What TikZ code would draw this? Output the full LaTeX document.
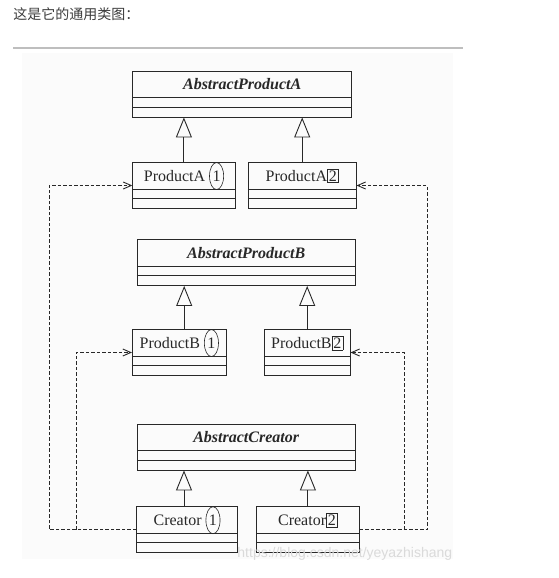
\documentclass[tikz,border=0pt]{standalone}
\usepackage{fontspec}
\setmainfont{Liberation Serif}
\newfontfamily\cjkfont{Noto Sans CJK SC}
\newfontfamily\wmfont{Liberation Sans}
\usetikzlibrary{arrows.meta,shapes.geometric}
\definecolor{ink}{RGB}{40,40,40}
\definecolor{rulegray}{RGB}{190,190,190}
\definecolor{panel}{RGB}{251,251,251}
\definecolor{wmgray}{RGB}{218,218,218}
\definecolor{headgray}{RGB}{60,60,60}
\newcommand{\circnum}[1]{\tikz[baseline=(cn.base)]\node[draw,ellipse,inner xsep=1pt,inner ysep=0pt,line width=0.6pt] (cn) {#1};}
\newcommand{\boxnum}[1]{{\setlength{\fboxsep}{1.2pt}\setlength{\fboxrule}{0.6pt}\fbox{#1}}}

\begin{document}
\begin{tikzpicture}[x=1pt,y=-1pt,line width=0.9pt,draw=ink,text=ink,
  cls/.style={draw,minimum height=46pt,inner sep=0pt},
  ttl/.style={anchor=north,minimum height=27pt,inner sep=0pt,font=\fontsize{16}{19}\selectfont},
  inh/.style={-{Triangle[open,width=16pt,length=20pt]}},
  dep/.style={dash pattern=on 3.5pt off 2pt,-{Straight Barb[length=8pt,width=7pt]}}]
  \useasboundingbox (0,0) rectangle (559,578);
  \fill[panel] (22,53) rectangle (453,559);
  \fill[rulegray] (13,47) rectangle (463,49.3);
  \node[anchor=west,inner sep=0pt,text=headgray,font=\cjkfont\fontsize{14}{16}\selectfont] (hd) at (13,14.5) {这是它的通用类图：};

  % classes
  \foreach \n/\x/\y/\w/\txt in {apa/242.2/94/219/{\bfseries\itshape AbstractProductA},
      pa1/183.9/185.5/102.3/{ProductA \circnum{1}}, pa2/302.2/185.5/107.7/{ProductA\boxnum{2}},
      apb/246.2/262.5/217.7/{\bfseries\itshape AbstractProductB},
      pb1/179.2/352.5/93.7/{ProductB \circnum{1}}, pb2/307.2/352.5/85.7/{ProductB\boxnum{2}},
      acr/246.2/447/217.7/{\bfseries\itshape AbstractCreator},
      cr1/187/529.7/100.6/{Creator \circnum{1}}, cr2/307.9/529.7/102.3/{Creator\boxnum{2}}}
  {
    \node[cls,minimum width=\w pt] (\n) at (\x,\y) {};
    \node[ttl] (t\n) at (\n.north) {\txt};
    \draw ([yshift=-27pt]\n.north west) -- ([yshift=-27pt]\n.north east);
    \draw ([yshift=-36.5pt]\n.north west) -- ([yshift=-36.5pt]\n.north east);
  }

  % generalisation
  \coordinate (b1) at ([xshift=5pt]pb1.north);
  \coordinate (c1) at ([xshift=-3pt]cr1.north);
  \draw[inh] (pa1.north) -- (pa1.north |- apa.south);
  \draw[inh] (pa2.north) -- (pa2.north |- apa.south);
  \draw[inh] (b1) -- (b1 |- apb.south);
  \draw[inh] (pb2.north) -- (pb2.north |- apb.south);
  \draw[inh] (c1) -- (c1 |- acr.south);
  \draw[inh] (cr2.north) -- (cr2.north |- acr.south);

  % dependencies
  \coordinate (lo) at (49,0); \coordinate (li) at (76,0);
  \coordinate (ro) at (427,0); \coordinate (ri) at (404,0);
  \draw[dep] (cr1.west) -| (lo |- pa1.west) -- (pa1.west);
  \draw[dep] (cr1.west -| li) |- (pb1.west);
  \draw[dep] (cr2.east) -| (ro |- pa2.east) -- (pa2.east);
  \draw[dep] (cr2.east -| ri) |- (pb2.east);

  \node[anchor=west,inner sep=0pt,text=wmgray,font=\wmfont\fontsize{14}{16}\selectfont] (wm) at (237,554) {https://blog.csdn.net/yeyazhishang};
\end{tikzpicture}
\end{document}
